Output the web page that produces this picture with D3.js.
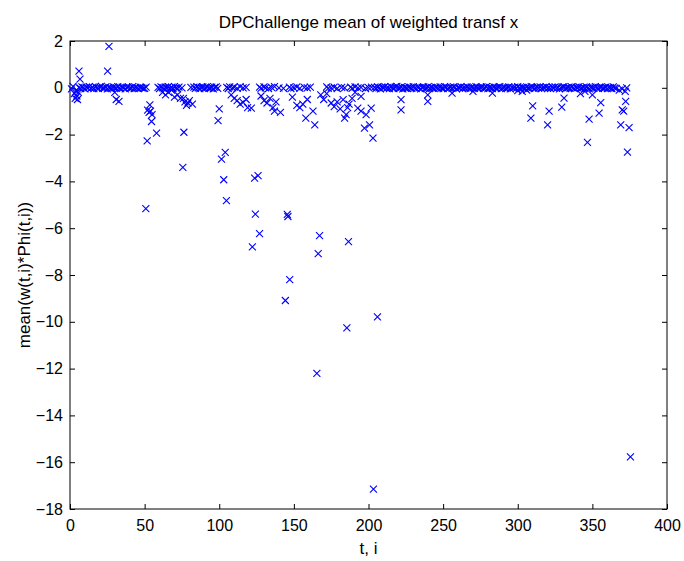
<!DOCTYPE html>
<html>
<head>
<meta charset="utf-8">
<script src="https://cdn.jsdelivr.net/npm/d3@7"></script>
<style>
body { margin: 0; background: #fff; }
text { font-family: "Liberation Sans", Arial, sans-serif; fill: #000; }
</style>
</head>
<body>
<div id="chart"></div>
<script>
var margin = { top: 41, right: 17, bottom: 52, left: 70 };
var width = 684 - margin.left - margin.right;
var height = 561 - margin.top - margin.bottom;

var titleText = "DPChallenge mean of weighted transf x";
var xLabelText = "t, i";
var yLabelText = "mean(w(t,i)*Phi(t,i))";
var xTicks = [0, 50, 100, 150, 200, 250, 300, 350, 400];
var yTicks = [2, 0, -2, -4, -6, -8, -10, -12, -14, -16, -18];

// points sitting on the zero line (t, value)
var zeroBand = [
    [6,0.02],[7,-0.03],[8,0.04],[9,0],[10,-0.05],[11,0.03],[12,0],[13,0.05],[14,-0.02],[15,0.02],
    [16,-0.04],[17,0.05],[18,0],[19,-0.03],[20,0.03],[21,0.06],[22,-0.02],[23,0],[24,0.04],[25,-0.05],
    [26,0.02],[27,0],[28,-0.03],[29,0.04],[30,0.01],[31,-0.02],[32,0.05],[33,0],[34,-0.04],[35,0.03],
    [36,0.01],[37,-0.05],[38,0.02],[39,0.04],[40,-0.02],[41,0],[42,0.05],[43,-0.03],[44,0.02],[45,0],
    [46,-0.04],[47,0.03],[48,0.01],[49,-0.02],
    [59,0.02],[60,-0.03],[61,0.04],[62,0],[63,-0.05],[64,0.03],[65,0.01],[66,0.05],[67,-0.02],[68,0.02],
    [69,-0.04],[70,0.05],[71,0],[72,-0.03],[73,0.03],
    [83,0.03],[84,-0.02],[85,0.05],[86,0],[87,-0.04],[88,0.02],[89,0.04],[90,-0.03],[91,0.01],[92,0.05],
    [93,-0.02],[94,0],[95,0.03],[96,-0.05],[97,0.02],[98,0.04],[99,-0.02],
    [204,0.02],[205,-0.03],[206,0.04],[207,0],[208,-0.05],[209,0.03],[210,0.01],[211,0.05],[212,-0.02],[213,0.02],
    [214,-0.04],[215,0.05],[216,0],[217,-0.03],[218,0.03],[219,0.06],[220,-0.02],[221,0],[222,0.04],[223,-0.05],
    [224,0.02],[225,0],[226,-0.03],[227,0.04],[228,0.01],[229,-0.02],[230,0.05],[231,0],[232,-0.04],[233,0.03],
    [234,0.01],[235,-0.05],[236,0.02],[237,0.04],[238,-0.02],[239,0],[240,0.05],[241,-0.03],[242,0.02],[243,0],
    [244,-0.04],[245,0.03],[246,0.01],[247,-0.02],[248,0.04],[249,0],[250,-0.03],[251,0.05],[252,0.02],[253,-0.04],
    [254,0],[255,0.03],[256,-0.02],[257,0.04],[258,0.01],[259,-0.05],[260,0.02],[261,0],[262,0.05],[263,-0.03],
    [264,0.02],[265,-0.01],[266,0.04],[267,0],[268,-0.04],[269,0.03],[270,0.01],[271,-0.02],[272,0.05],[273,0],
    [274,-0.03],[275,0.02],[276,0.04],[277,-0.02],[278,0],[279,0.05],[280,-0.04],[281,0.02],[282,0.01],[283,-0.03],
    [284,0.04],[285,0],[286,-0.02],[287,0.03],[288,0.05],[289,-0.04],[290,0.01],[291,0.02],[292,-0.03],[293,0],
    [294,0.04],[295,-0.05],[296,0.02],[297,0],[298,0.03],[299,-0.02],[300,0.05],[301,0],[302,-0.04],[303,0.02],
    [304,0.01],[305,-0.03],[306,0.04],[307,0],[308,-0.02],[309,0.05],[310,0.02],[311,-0.04],[312,0],[313,0.03],
    [314,-0.01],[315,0.04],[316,-0.03],[317,0.02],[318,0],[319,0.05],[320,-0.02],[321,0.01],[322,-0.04],[323,0.03],
    [324,0],[325,0.04],[326,-0.02],[327,0.02],[328,-0.05],[329,0],[330,0.03],[331,0.05],[332,-0.03],[333,0.01],
    [334,0.02],[335,-0.02],[336,0.04],[337,0],[338,-0.04],[339,0.03],[340,0.01],[341,0.05],[342,-0.02],[343,0],
    [344,0.02],[345,-0.03],[346,0.04],[347,0],[348,-0.05],[349,0.03],[350,0.01],[351,-0.02],[352,0.05],[353,0],
    [354,-0.03],[355,0.02],[356,0.04],[357,-0.02],[358,0],[359,0.03],[360,-0.04],[361,0.02],[362,0.01],[363,-0.03],
    [364,0.04],[365,0],[366,-0.02]
];

// points that leave the zero line (t, value)
var offBand = [
    [1,-0.05],[2,0.06],[3,-0.25],[3.5,-0.45],[4,-0.15],[4.6,-0.35],[5,-0.5],[5.6,-0.2],
    [6,0.71],[6.7,0.37],[25.2,0.71],[26.1,1.77],
    [30,-0.2],[31,-0.5],[32.8,-0.58],[50,-0.02],[51,0.03],
    [51.7,-2.27],[50.8,-5.16],[52,-0.95],[53,-1.05],[53.5,-0.73],[54,-1.0],[55,-1.15],[54.6,-1.44],[58,-1.94],
    [62,-0.2],[64,-0.3],[66,-0.2],[68,-0.1],[70,-0.4],[72,-0.3],[74,-0.45],[75,0],[76,-0.45],[77,-0.6],
    [78,-0.75],[79,-0.65],[80,-0.55],[81,0.02],[82,-0.7],[76.3,-1.9],[75.6,-3.4],
    [100,-0.9],[99.2,-1.4],[101.5,-3.05],[104,-2.76],[103,-3.93],[104.8,-4.82],
    [105,0.02],[106,-0.03],[107,0.04],[109,0],[110,0.03],[112,-0.02],[114,0.05],[116,0],[118,0.02],
    [127,0.03],[128,-0.02],[130,0.04],[131,0],[133,-0.03],[135,0.02],[137,0.05],[140,0],[143,-0.02],
    [147,0.03],[148,-0.04],[150,0],[152,0.04],[154,-0.02],[157,0.02],[159,0],[161,0.03],
    [172,0.04],[173,-0.02],[175,0],[177,0.03],[179,-0.03],[182,0.02],[184,0],
    [188,0.03],[189,-0.02],[191,0.04],[193,0],[195,0.02],[198,-0.03],[200,0.01],[202,0.03],
    [108,-0.3],[110,-0.45],[112,-0.55],[114,-0.7],[116,-0.62],[118,-0.5],[119,-0.85],[121.5,-0.87],
    [128,-0.35],[130,-0.55],[132,-0.65],[134,-0.45],[136,-0.85],[138,-0.6],[137,-1.0],[141,-1.05],
    [149,-0.4],[152,-0.75],[154,-0.85],[156,-0.7],[159,-0.5],[162.8,-1.0],[158,-1.3],[164,-1.58],
    [168,-0.3],[170,-0.5],[172,-0.25],[175,-0.65],[177,-0.8],[179,-0.6],[181,-0.9],[183,-0.51],
    [185,-1.15],[184,-1.3],[186,-0.85],[187,-0.7],[189,-0.45],[191,-0.2],
    [195,-0.37],[192.8,-0.87],[195,-1.0],[198.4,-1.15],[201.8,-0.87],[200.7,-1.58],[197.3,-1.72],[203,-2.15],
    [123.7,-3.86],[126,-3.75],[124.2,-5.4],[127,-6.23],[122.2,-6.8],[145.6,-5.41],[146,-5.5],
    [147.2,-8.2],[144.3,-9.09],[167.2,-6.32],[166.3,-7.09],[186.6,-6.57],[185.5,-10.26],[165.4,-12.2],
    [206,-9.79],[203.3,-17.15],
    [221.8,-0.51],[221.8,-0.94],[239.7,-0.3],[239.7,-0.58],[256,-0.23],[270,-0.15],[283,-0.23],
    [300,-0.12],[303,-0.15],[306,-0.1],[310,-0.77],[308.8,-1.3],[321,-1.0],[320,-1.58],[331,-0.44],
    [329.5,-0.83],[342,-0.25],[345,-0.15],[350,-0.3],[355.6,-0.63],[354.5,-1.08],[347.8,-1.34],[346.7,-2.33],
    [368,-0.1],[370,-0.05],[372,-0.15],[373,0],[372.3,-0.58],[370,-0.94],[371,-1.0],[369,-1.58],
    [374.6,-1.7],[373.5,-2.75],[375.5,-15.77]
];

var svg = d3.select("#chart").append("svg")
    .attr("width", width + margin.left + margin.right)
    .attr("height", height + margin.top + margin.bottom);

var g = svg.append("g")
    .attr("transform", "translate(" + margin.left + "," + margin.top + ")");

var x = d3.scaleLinear().domain([0, 400]).range([0, width]);
var y = d3.scaleLinear().domain([-18, 2]).range([height, 0]);

// matlab style: ticks point inward on all four sides
function styleAxis(sel) {
    sel.select(".domain").remove();
    sel.selectAll(".tick line").attr("stroke", "#000");
    sel.selectAll(".tick text").style("font-size", "16px");
}

g.append("g")
    .attr("transform", "translate(0," + height + ")")
    .call(d3.axisBottom(x).tickValues(xTicks).tickSize(-5).tickPadding(11).tickFormat(d3.format("d")))
    .call(styleAxis);
g.append("g")
    .call(d3.axisTop(x).tickValues(xTicks).tickSize(-5).tickFormat(""))
    .call(styleAxis);
g.append("g")
    .call(d3.axisLeft(y).tickValues(yTicks).tickSize(-5).tickPadding(7).tickFormat(d3.format("d")))
    .call(styleAxis);
g.append("g")
    .attr("transform", "translate(" + width + ",0)")
    .call(d3.axisRight(y).tickValues(yTicks).tickSize(-5).tickFormat(""))
    .call(styleAxis);

g.append("rect")
    .attr("width", width)
    .attr("height", height)
    .attr("fill", "none")
    .attr("stroke", "#000")
    .attr("stroke-width", 1);

var cross = "M-3.5,-3.5L3.5,3.5M-3.5,3.5L3.5,-3.5";
var allPoints = zeroBand.concat(offBand);

g.append("g").selectAll("path")
    .data(allPoints)
    .enter().append("path")
    .attr("d", cross)
    .attr("transform", function(d) { return "translate(" + x(d[0]) + "," + y(d[1]) + ")"; })
    .attr("fill", "none")
    .attr("stroke", "#0000ff")
    .attr("stroke-width", 1.1);

svg.append("text")
    .attr("x", margin.left + width / 2)
    .attr("y", 28)
    .attr("text-anchor", "middle")
    .style("font-size", "17px")
    .text(titleText);

svg.append("text")
    .attr("x", margin.left + width / 2)
    .attr("y", 554)
    .attr("text-anchor", "middle")
    .style("font-size", "17px")
    .text(xLabelText);

svg.append("text")
    .attr("transform", "translate(30," + (margin.top + height / 2) + ") rotate(-90)")
    .attr("text-anchor", "middle")
    .style("font-size", "17px")
    .text(yLabelText);
</script>
</body>
</html>
